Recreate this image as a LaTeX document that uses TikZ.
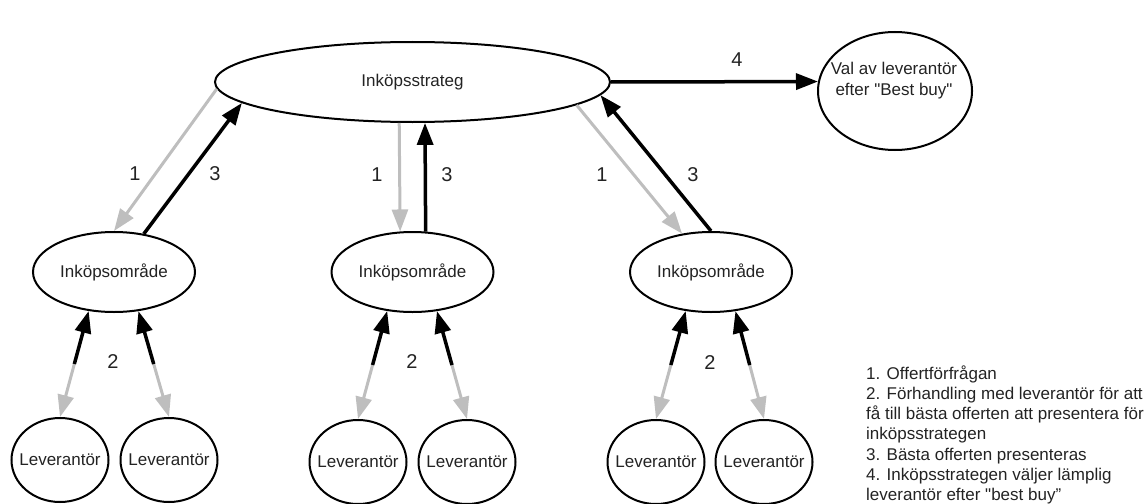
\documentclass[tikz,border=0pt]{standalone}
\usepackage{fontspec}
\setmainfont{Liberation Sans}
\usetikzlibrary{arrows.meta,shapes.geometric,calc}
\definecolor{lightline}{RGB}{190,190,190}
\definecolor{txt}{RGB}{35,35,35}

\begin{document}
\begin{tikzpicture}[x=1pt,y=-1pt,
  every node/.style={text=txt, font=\fontsize{17}{21}\selectfont},
  oval/.style={ellipse, draw=black, line width=2pt, inner sep=0pt},
  strategy/.style={oval, minimum width=395pt, minimum height=80pt},
  area/.style={oval, minimum width=162pt, minimum height=80pt},
  supplier/.style={oval, minimum width=97pt, minimum height=84pt},
  choice/.style={oval, minimum width=154pt, minimum height=118pt},
  num/.style={font=\fontsize{20}{20}\selectfont},
  head/.style={-{Triangle[length=22pt,width=16pt]}},
  req/.style={head, draw=lightline, line width=3pt},
  offer/.style={head, draw=black, line width=3.5pt},
  pick/.style={head, draw=black, line width=3.5pt},
  negolow/.style={head, draw=lightline, line width=3pt},
  negohigh/.style={head, draw=black, line width=3.5pt},
]
\useasboundingbox (0,0) rectangle (1147,503);

% strategy and final choice
\node[strategy] (strat) at (412.5,82) {Inköpsstrateg};
\node[choice] (val) at (895,91) {};
\node[align=center] (valtext) at (894,81) {Val av leverantör\\efter \textquotedbl Best buy\textquotedbl};

% purchasing areas
\node[area] (a1) at (114,272) {Inköpsområde};
\node[area] (a2) at (412.5,272) {Inköpsområde};
\node[area] (a3) at (711,272) {Inköpsområde};

% suppliers
\node[supplier, label=center:Leverantör] (s11) at (60,460) {};
\node[supplier, label=center:Leverantör] (s12) at (169,460) {};
\node[supplier, label=center:Leverantör] (s21) at (358,462) {};
\node[supplier, label=center:Leverantör] (s22) at (467,462) {};
\node[supplier, label=center:Leverantör] (s31) at (656,462) {};
\node[supplier, label=center:Leverantör] (s32) at (764,462) {};

% 1: requests, 3: offers
\draw[req] (strat.182.1) -- (a1.north);
\draw[offer] (a1.52.2) -- (strat.187);
\draw[req] (strat.252.6) -- (a2.107.6);
\draw[offer] (a2.72.4) -- (strat.287.4);
\draw[req] (strat.352.9) -- (a3.127.8);
\draw[offer] (a3.north) -- (strat.356.7);

% 4: choice
\draw[pick] (strat.east) -- (val.173.3);

% 2: negotiation, two-tone double arrows
\foreach \a/\s/\ang in {a1/s11/237.3, a1/s12/302.7, a2/s21/237.3, a2/s22/302.7, a3/s31/237.3, a3/s32/302.7} {
  \draw[negolow] ($(\a.\ang)!0.5!(\s.north)$) -- (\s.north);
  \draw[negohigh] ($(\a.\ang)!0.5!(\s.north)$) -- (\a.\ang);
}

% step numbers
\node[num] (n1a) at (135,174) {1};
\node[num] (n3a) at (215,174) {3};
\node[num] (n1b) at (377,175) {1};
\node[num] (n3b) at (447,175) {3};
\node[num] (n1c) at (602,175) {1};
\node[num] (n3c) at (693,175) {3};
\node[num] (n4) at (737,60) {4};
\node[num] (n2a) at (113,362) {2};
\node[num] (n2b) at (412,362) {2};
\node[num] (n2c) at (710,363) {2};

% legend
\foreach \t [count=\i] in {1. Offertförfrågan, 2. Förhandling med leverantör för att, få till bästa offerten att presentera för, inköpsstrategen, 3. Bästa offerten presenteras, 4. Inköpsstrategen väljer lämplig, leverantör efter \textquotedbl best buy”} {
  \node[anchor=base west, inner sep=0pt] (leg\i) at (866,{379+20.3*(\i-1)}) {\t};
}
\end{tikzpicture}
\end{document}
